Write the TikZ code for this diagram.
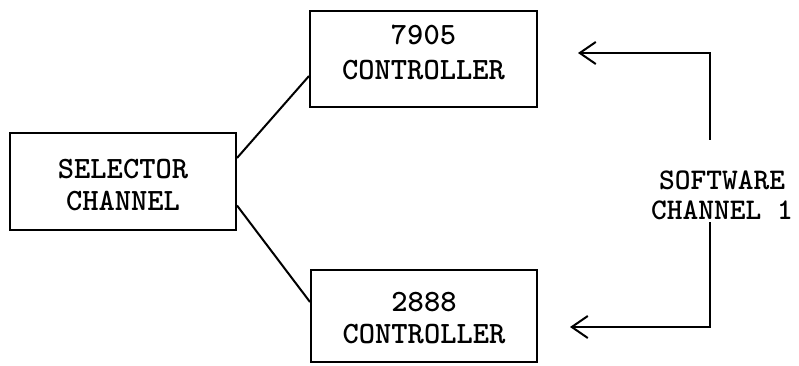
\documentclass[tikz,border=0pt]{standalone}
\usepackage{fontspec}
\usetikzlibrary{arrows.meta,positioning}

\begin{document}
\begin{tikzpicture}[
    x=1pt, y=-1pt,
    font=\ttfamily\bfseries\fontsize{31}{35}\selectfont,
    unit/.style={rectangle, draw=black, line width=2pt, align=center, inner sep=0pt, text depth=0pt},
    lbl/.style={align=center, inner sep=0pt},
    wire/.style={line width=2pt, draw=black},
    arrow/.style={-{Straight Barb[length=16pt, width=22pt, line width=2pt]}, line width=2pt, draw=black}
]
\useasboundingbox (0,0) rectangle (799,366);

\node[unit, minimum width=226pt, minimum height=97pt, text height=57pt,
      font=\ttfamily\bfseries\fontsize{31}{32}\selectfont] (selector) at (123,181.5) {SELECTOR\\CHANNEL};
\node[unit, minimum width=227pt, minimum height=96pt, text height=42pt] (ctlA) at (423.5,59) {7905\\CONTROLLER};
\node[unit, minimum width=226pt, minimum height=92pt, text height=54pt,
      font=\ttfamily\bfseries\fontsize{31}{32}\selectfont] (ctlB) at (424,316) {2888\\CONTROLLER};
\node[lbl, font=\ttfamily\bfseries\fontsize{30}{30}\selectfont] (software) at (722,195.5) {SOFTWARE\\CHANNEL 1};

\coordinate (swtop) at (710,140);
\coordinate (swbot) at (710,222);
\coordinate (tipA) at (578,53);
\coordinate (tipB) at (570,327);

\draw[wire] ([yshift=-26pt]selector.north east) -- ([yshift=-17pt]ctlA.west);
\draw[wire] ([yshift=-24pt]selector.east) -- ([yshift=14pt]ctlB.west);
\draw[arrow] (swtop) |- (tipA);
\draw[arrow] (swbot) |- (tipB);
\end{tikzpicture}
\end{document}
